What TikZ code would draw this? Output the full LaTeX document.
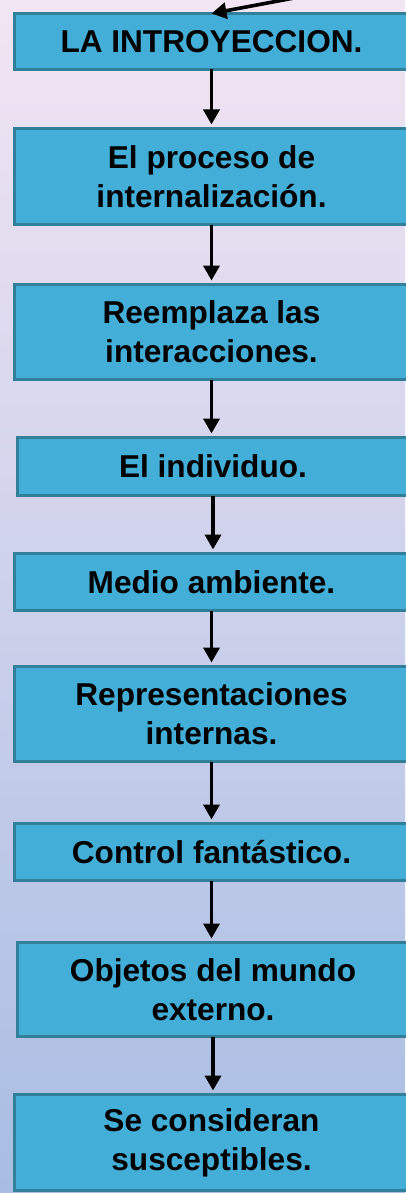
\documentclass[tikz,border=0pt]{standalone}
\usepackage{fontspec}
\setmainfont{Liberation Sans}
\usetikzlibrary{arrows.meta}
\definecolor{bgtop}{HTML}{F2E5F3}
\definecolor{bgmid}{HTML}{DCDCEF}
\definecolor{bgbot}{HTML}{A8BDE3}
\definecolor{boxfill}{HTML}{43AED7}
\definecolor{boxline}{HTML}{327F99}
\tikzset{
  boxshape/.style={draw=boxline, fill=boxfill, line width=3pt},
  flowtext/.style={inner sep=0pt, outer sep=0pt, align=center,
    font=\fontsize{31.6}{39}\selectfont\bfseries, text=black},
  flowarrow/.style={line width=3.6pt, draw=black,
    -{Triangle[width=16pt,length=15pt]}, shorten >=4pt}
}
\begin{document}
\begin{tikzpicture}[x=1pt,y=-1pt]
\useasboundingbox (0,0) rectangle (405,1193);
\shade[top color=bgtop, middle color=bgmid, bottom color=bgbot] (0,0) rectangle (405,1193);
% box shapes (right side runs past the page edge)
\path[boxshape] (14.5,13.5) rectangle (425,69.5);
\path[boxshape] (14.5,128.5) rectangle (425,224.5);
\path[boxshape] (14.5,284.5) rectangle (425,379.5);
\path[boxshape] (17.5,437.5) rectangle (425,495.5);
\path[boxshape] (14.5,553.5) rectangle (425,610.5);
\path[boxshape] (14.5,666.5) rectangle (425,761.5);
\path[boxshape] (14.5,823.5) rectangle (425,880.5);
\path[boxshape] (17.5,942.5) rectangle (425,1036.5);
\path[boxshape] (14.5,1094.5) rectangle (425,1190.5);
% texts
\node[flowtext, minimum width=394pt, minimum height=56pt] (b1) at (211.5,41.5) {LA INTROYECCION.};
\node[flowtext, minimum width=394pt, minimum height=96pt] (b2) at (211.5,176.5) {El proceso de\\internalización.};
\node[flowtext, minimum width=394pt, minimum height=95pt] (b3) at (211.5,332) {Reemplaza las\\interacciones.};
\node[flowtext, minimum width=391pt, minimum height=58pt] (b4) at (213,466.5) {El individuo.};
\node[flowtext, minimum width=394pt, minimum height=57pt] (b5) at (211.5,582) {Medio ambiente.};
\node[flowtext, minimum width=394pt, minimum height=95pt] (b6) at (211.5,714) {Representaciones\\internas.};
\node[flowtext, minimum width=394pt, minimum height=57pt] (b7) at (211.5,852) {Control fantástico.};
\node[flowtext, minimum width=391pt, minimum height=94pt] (b8) at (213,989.5) {Objetos del mundo\\externo.};
\node[flowtext, minimum width=394pt, minimum height=96pt] (b9) at (211.5,1142.5) {Se consideran\\susceptibles.};
\coordinate (src) at (310,-5);
\draw[flowarrow, shorten >=0pt] (src) -- (b1.north);
\foreach \a/\b in {b1/b2,b2/b3,b3/b4,b4/b5,b5/b6,b6/b7,b7/b8,b8/b9}
  \draw[flowarrow] (\a.south) -- (\a.south |- \b.north);
\end{tikzpicture}
\end{document}
